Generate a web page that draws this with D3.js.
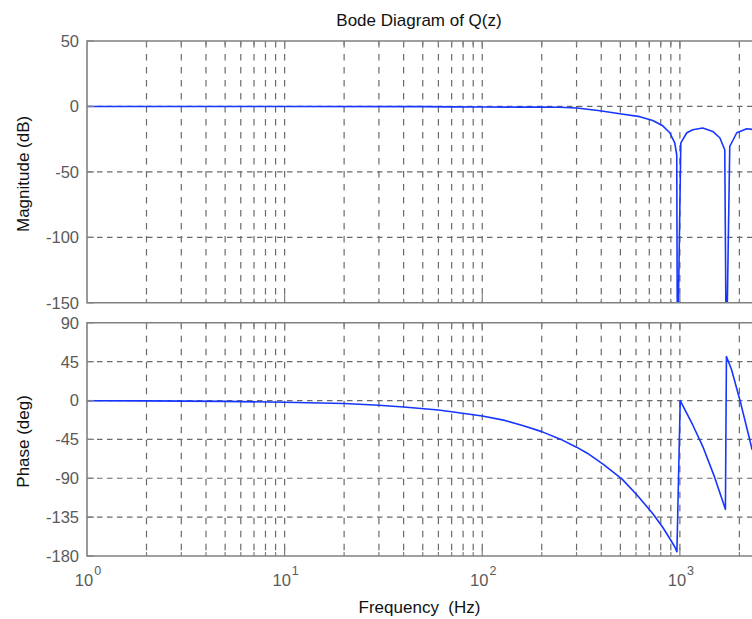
<!DOCTYPE html>
<html>
<head>
<meta charset="utf-8">
<script src="https://cdn.jsdelivr.net/npm/d3@7"></script>
<style>
  body { margin: 0; background: #fff; }
  svg { display: block; }
  text { font-family: "Liberation Sans", Arial, Helvetica, sans-serif; }
</style>
</head>
<body>
<svg id="chart" width="752" height="619"></svg>
<script>
// Magnitude response of Q(z), frequency in Hz, magnitude in dB
const magFreq = [1, 10, 50, 70, 100, 150, 200, 247, 301, 394, 497, 627, 729, 819, 889, 942, 964, 972,
                 1011, 1084, 1162, 1305, 1466, 1592, 1687, 1718, 1788, 1940, 2180, 2320];
const magDb   = [0, 0, -0.1, -0.3, -0.4, -0.5, -0.5, -0.6, -1.2, -3.3, -5.6, -7.8, -10.7, -14.8, -20.1, -27.8, -36.9, -200,
                 -27.8, -20.1, -17.8, -16.5, -19.1, -23.9, -33.1, -200, -30.6, -20.1, -17.0, -17.5];

// Phase response of Q(z), frequency in Hz, phase in degrees
const phaseFreq = [1, 2, 5, 10, 20, 30, 40, 60, 70, 100, 130, 160, 200, 250, 300, 340, 410, 510, 610, 730, 820, 890,
                   940, 966, 1004, 1160, 1305, 1500, 1700, 1720, 1825, 2010, 2260, 2320];
const phaseDeg  = [-0.2, -0.4, -1, -2, -3.5, -5.5, -7.5, -11, -13, -18, -23, -29, -36, -45, -54, -61, -74, -91, -110, -131, -147, -160,
                   -169, -175, 0, -28, -53, -89, -126, 51, 36, 1, -46, -57];

// Axis ticks
const magTicks = [50, 0, -50, -100, -150];
const phaseTicks = [90, 45, 0, -45, -90, -135, -180];
const decadeTicks = [1, 10, 100, 1000];
const decadeExp = ["0", "1", "2", "3"];

const fMax = 2317;
const svg = d3.select("#chart");

const left = 87, right = 752;
const x = d3.scaleLog().domain([1, fMax]).range([left, right]);

const magY = d3.scaleLinear().domain([-150, 50]).range([302.8, 41]);
const phaseY = d3.scaleLinear().domain([-180, 90]).range([556, 322.8]);

// Log grid positions: 1..9 in every decade
const gridFreqs = [];
decadeTicks.forEach(d => { for (let k = 1; k <= 9; k++) { const f = k * d; if (f <= fMax) gridFreqs.push(f); } });

const frameColor = "#808080";
const gridColor = "#6a6a6a";
const tickColor = "#5a5a5a";
const lineColor = "#1636ff";

function panel(id, y, ticks, freqs, values) {
  const [y0, y1] = y.range();   // bottom, top
  const g = svg.append("g");

  g.append("clipPath").attr("id", "clip-" + id)
    .append("rect").attr("x", left).attr("y", y1).attr("width", right - left + 2).attr("height", y0 - y1);

  // vertical dashed grid
  g.append("g").selectAll("line").data(gridFreqs.filter(f => f > 1)).join("line")
    .attr("x1", d => x(d)).attr("x2", d => x(d))
    .attr("y1", y1).attr("y2", y0)
    .attr("stroke", gridColor).attr("stroke-width", 1.2).attr("stroke-dasharray", "6.5,6.5");

  // horizontal dashed grid
  g.append("g").selectAll("line").data(ticks.filter(t => t !== y.domain()[0] && t !== y.domain()[1])).join("line")
    .attr("x1", left).attr("x2", right)
    .attr("y1", d => y(d)).attr("y2", d => y(d))
    .attr("stroke", gridColor).attr("stroke-width", 1.2).attr("stroke-dasharray", "5.5,4.5");

  // response curve
  const pts = freqs.map((f, i) => [f, values[i]]);
  g.append("path").datum(pts)
    .attr("clip-path", "url(#clip-" + id + ")")
    .attr("fill", "none").attr("stroke", lineColor).attr("stroke-width", 1.6)
    .attr("stroke-linejoin", "round")
    .attr("d", d3.line().x(d => x(d[0])).y(d => y(d[1])));

  // frame (right side runs off the canvas)
  g.append("path")
    .attr("d", `M${right + 2},${y1}H${left}V${y0}H${right + 2}`)
    .attr("fill", "none").attr("stroke", frameColor).attr("stroke-width", 1.6);

  // tick marks on top and bottom edges
  const tk = g.append("g").attr("stroke", frameColor).attr("stroke-width", 1.2);
  gridFreqs.filter(f => f > 1).forEach(f => {
    const len = decadeTicks.includes(f) ? 8 : 4;
    tk.append("line").attr("x1", x(f)).attr("x2", x(f)).attr("y1", y0).attr("y2", y0 - len);
    tk.append("line").attr("x1", x(f)).attr("x2", x(f)).attr("y1", y1).attr("y2", y1 + len);
  });
  ticks.forEach(t => {
    tk.append("line").attr("x1", left).attr("x2", left + 7).attr("y1", y(t)).attr("y2", y(t));
  });

  // y tick labels
  g.append("g").selectAll("text").data(ticks).join("text")
    .attr("x", 79).attr("y", d => y(d)).attr("dy", "0.36em")
    .attr("text-anchor", "end").attr("font-size", 16.5).attr("fill", tickColor)
    .text(d => d);
}

panel("mag", magY, magTicks, magFreq, magDb);
panel("phase", phaseY, phaseTicks, phaseFreq, phaseDeg);

// x tick labels: powers of ten
decadeTicks.forEach((f, i) => {
  const t = svg.append("text").attr("x", x(f) + 1).attr("y", 586)
    .attr("text-anchor", "middle").attr("font-size", 16.5).attr("fill", tickColor);
  t.append("tspan").text("10");
  t.append("tspan").attr("dx", 1).attr("dy", -11).attr("font-size", 12.5).text(decadeExp[i]);
});

// titles and axis labels
svg.append("text").attr("x", 419).attr("y", 26).attr("text-anchor", "middle")
  .attr("font-size", 17).attr("fill", "#111").text("Bode Diagram of Q(z)");

svg.append("text").attr("x", 419.5).attr("y", 613).attr("text-anchor", "middle")
  .attr("font-size", 17).attr("fill", "#111").attr("xml:space", "preserve")
  .style("white-space", "pre").text("Frequency  (Hz)");

svg.append("text").attr("transform", `translate(29,${(magY.range()[0] + magY.range()[1]) / 2 + 2}) rotate(-90)`)
  .attr("text-anchor", "middle").attr("font-size", 17).attr("fill", "#111").text("Magnitude (dB)");

svg.append("text").attr("transform", `translate(29,${(phaseY.range()[0] + phaseY.range()[1]) / 2 + 2}) rotate(-90)`)
  .attr("text-anchor", "middle").attr("font-size", 17).attr("fill", "#111").text("Phase (deg)");
</script>
</body>
</html>
